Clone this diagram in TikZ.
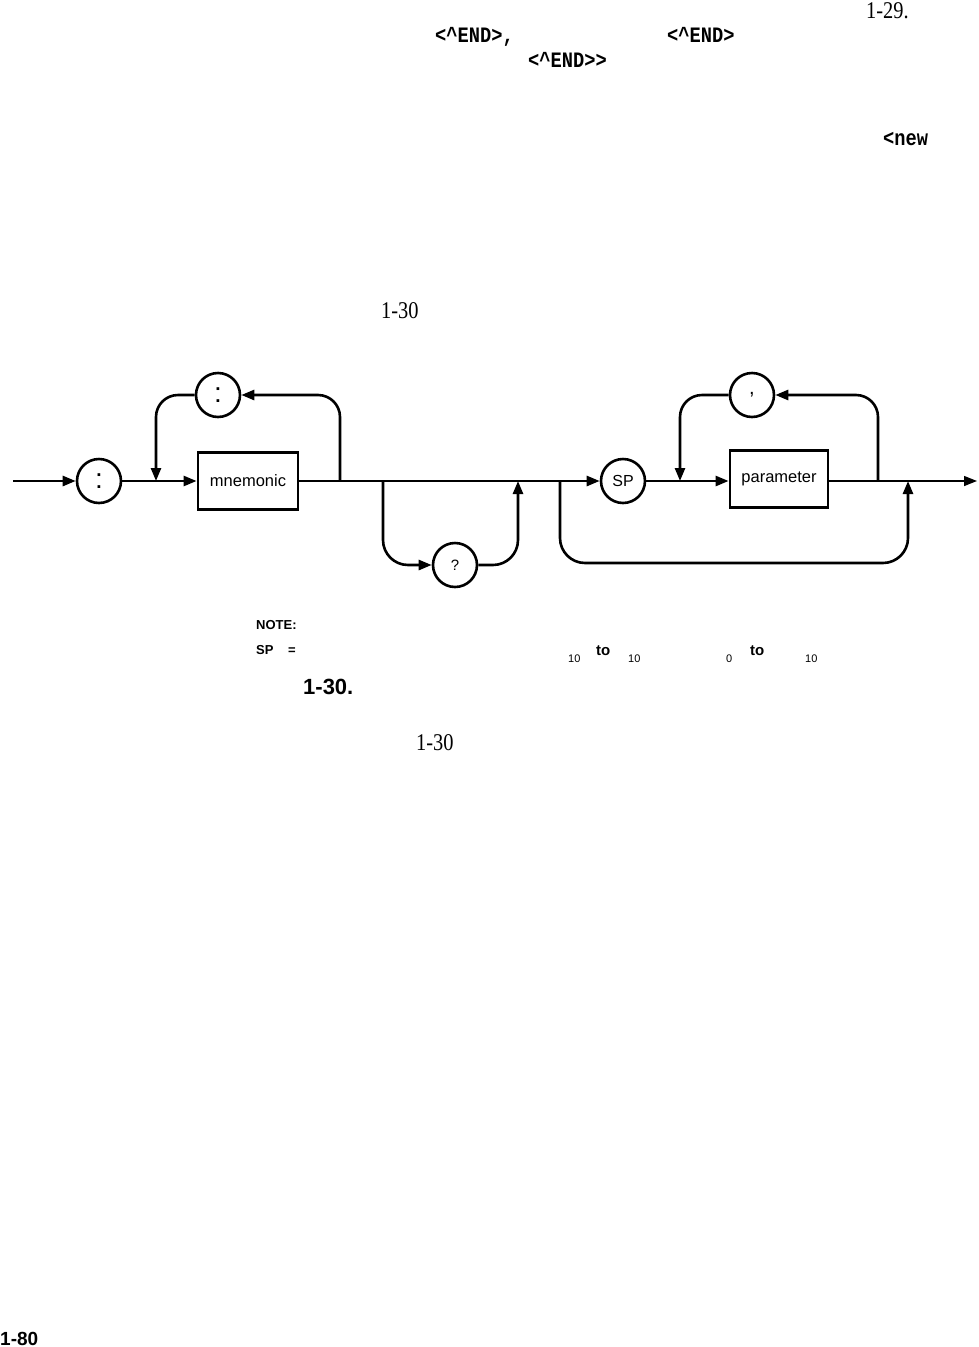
\documentclass[tikz,border=0pt]{standalone}
\usepackage{fontspec}
\setmainfont{Liberation Serif}
\setsansfont{Liberation Sans}
\newfontfamily\monof[FakeStretch=0.85]{Liberation Mono}
\newfontfamily\serifc[FakeStretch=0.85]{Liberation Serif}
\usetikzlibrary{arrows.meta}
\newcommand{\fs}[1]{\fontsize{#1}{#1}\selectfont}
\begin{document}
\begin{tikzpicture}[x=1pt,y=-1pt,
  ln/.style={line width=2.6pt},
  arr/.style={-{Triangle[length=13pt,width=10pt]}},
  term/.style={circle, draw, line width=2.6pt, minimum size=44pt, inner sep=0pt, font=\sffamily\fs{16}},
  nt/.style={rectangle, draw, line width=2.8pt, minimum width=100pt, minimum height=57pt, inner sep=0pt, font=\sffamily\fs{16.5}},
  txt/.style={anchor=base west, inner sep=0pt},
  mono/.style={txt, font=\monof\bfseries\fs{22}},
  serif/.style={txt, font=\serifc\fs{24}},
  bsans/.style={txt, font=\sffamily\bfseries\fs{13}},
  sub/.style={txt, font=\sffamily\fs{11}}
]
\useasboundingbox (0,0) rectangle (978,1347);

% page text
\node[serif] (t129) at (866,18) {1-29.};
\node[mono] (e1) at (435,42) {<\^{}END>,};
\node[mono] (e2) at (667,42) {<\^{}END>};
\node[mono] (e3) at (528,67) {<\^{}END>>};
\node[mono] (nw) at (883,145) {<new};
\node[serif] (t130a) at (381,318) {1-30};

% diagram nodes
\node[term, font=\sffamily\fs{28}] (c1) at (99,481) {:};
\node[nt] (mn) at (248,481) {mnemonic};
\node[term, font=\sffamily\fs{28}] (c2) at (218,395) {:};
\node[term, font=\sffamily\fs{15}] (c3) at (455,565) {?};
\node[term] (c4) at (623,481) {SP};
\node[nt, minimum width=98pt] (pa) at (779,479) {parameter};
\node[term, font=\sffamily\fs{20}] (c5) at (752,395) {,};

\coordinate (start) at (13,481);
\coordinate (end) at (977,481);
\coordinate (j1) at (156,481);
\coordinate (j2) at (340,481);
\coordinate (q1) at (383,481);
\coordinate (q2) at (518,481);
\coordinate (b1) at (560,481);
\coordinate (b1d) at (560,563);
\coordinate (j3) at (680,481);
\coordinate (j4) at (878,481);
\coordinate (b2) at (908,481);
\coordinate (m2) at (913,481);

% main line
\draw[ln,arr] (start) -- (c1);
\draw[ln,arr] (c1) -- (mn.west);
\draw[ln,arr] (mn.east) -- (c4.west);
\draw[ln,arr] (c4) -- (pa.west |- c4);
\draw[ln] (pa.east |- m2) -- (m2);
\draw[line width=1.4pt,arr] (m2) -- (end);

% colon loop
\draw[ln,arr,rounded corners=22pt] (j2) |- (c2.east);
\draw[ln,arr,rounded corners=22pt] (c2.west) -| (j1);

% query branch
\draw[ln,arr,rounded corners=25pt] (q1) |- (c3.west);
\draw[ln,arr,rounded corners=25pt] (c3.east) -| (q2);

% bypass of parameters
\draw[ln,arr,rounded corners=25pt] (b1) -- (b1d) -| (b2);

% comma loop
\draw[ln,arr,rounded corners=22pt] (j4) |- (c5.east);
\draw[ln,arr,rounded corners=22pt] (c5.west) -| (j3);

% note text
\node[bsans] (note) at (256,629) {NOTE:};
\node[bsans] (sp) at (256,654) {SP};
\node[bsans] (eq) at (288,654) {=};
\node[sub] (s1) at (568,662) {10};
\node[bsans, font=\sffamily\bfseries\fs{15}] (to1) at (596,655) {to};
\node[sub] (s2) at (628,662) {10};
\node[sub] (s3) at (726,662) {0};
\node[bsans, font=\sffamily\bfseries\fs{15}] (to2) at (750,655) {to};
\node[sub] (s4) at (805,662) {10};
\node[bsans, font=\sffamily\bfseries\fs{22}] (fig) at (303,694) {1-30.};
\node[serif] (t130b) at (416,750) {1-30};
\node[bsans, font=\sffamily\bfseries\fs{19}] (pg) at (0,1345) {1-80};
\end{tikzpicture}
\end{document}
